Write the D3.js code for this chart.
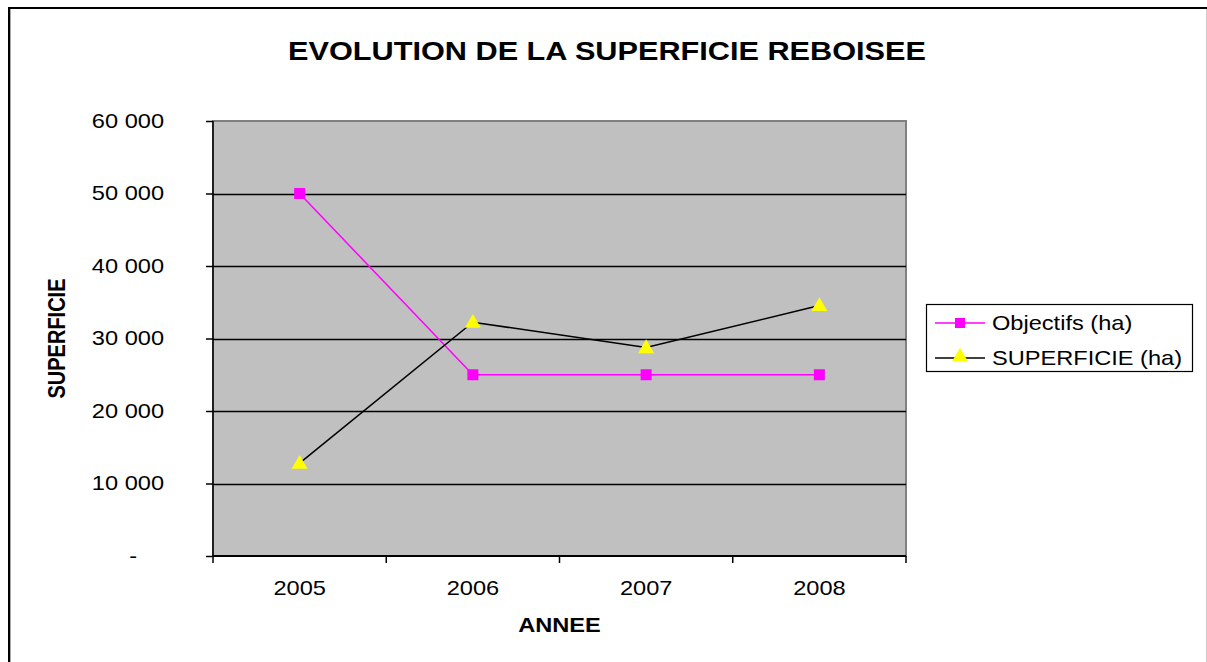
<!DOCTYPE html>
<html>
<head>
<meta charset="utf-8">
<script src="https://cdnjs.cloudflare.com/ajax/libs/d3/7.8.5/d3.min.js"></script>
<style>
  body { margin: 0; background: #fff; }
  text { font-family: "Liberation Sans", Arial, sans-serif; }
</style>
</head>
<body>
<svg id="chart" width="1207" height="662"></svg>
<script>
var years = ["2005", "2006", "2007", "2008"];
var objectifs = [50000, 25000, 25000, 25000];
var superficie = [12800, 32250, 28750, 34550];
var yTicks = [0, 10000, 20000, 30000, 40000, 50000, 60000];

// the original picture is widened a little, text too
var sx = 1.18;

var svg = d3.select("#chart"),
    margin = {top: 121, left: 213, bottom: 106, right: 301},
    width = +svg.attr("width"),
    height = +svg.attr("height");

// outer frame
svg.append("line").attr("x1", 8).attr("x2", 1207).attr("y1", 8).attr("y2", 8)
    .attr("stroke", "#000").attr("stroke-width", 2);
svg.append("line").attr("x1", 9).attr("x2", 9).attr("y1", 7).attr("y2", 662)
    .attr("stroke", "#000").attr("stroke-width", 2);
svg.append("line").attr("x1", 10.5).attr("x2", 10.5).attr("y1", 9).attr("y2", 662)
    .attr("stroke", "#aaa").attr("stroke-width", 1);
svg.append("line").attr("x1", 1206.5).attr("x2", 1206.5).attr("y1", 9).attr("y2", 662)
    .attr("stroke", "#ccc").attr("stroke-width", 1);

var x = d3.scaleBand()
    .domain(years)
    .range([margin.left, width - margin.right]);

var y = d3.scaleLinear()
    .domain([0, 60000])
    .range([height - margin.bottom, margin.top]);

// plot background
svg.append("rect")
    .attr("x", x.range()[0])
    .attr("y", y(60000))
    .attr("width", x.range()[1] - x.range()[0])
    .attr("height", y(0) - y(60000))
    .attr("fill", "#c0c0c0")
    .attr("stroke", "#808080")
    .attr("stroke-width", 2);

// gridlines
svg.append("g")
    .selectAll("line")
    .data(yTicks.slice(1, -1))
    .enter().append("line")
    .attr("x1", x.range()[0])
    .attr("x2", x.range()[1])
    .attr("y1", d => Math.round(y(d)) + 0.5)
    .attr("y2", d => Math.round(y(d)) + 0.5)
    .attr("stroke", "#000")
    .attr("stroke-width", 1.5);

var fmt = d => d === 0 ? "-" : d3.format(",")(d).replace(",", " ");

var yAxis = svg.append("g")
    .attr("transform", `translate(${x.range()[0]},0)`)
    .call(d3.axisLeft(y).tickValues(yTicks).tickSize(7).tickFormat(fmt));
yAxis.selectAll("text")
    .style("font-size", "20px").attr("fill", "#000")
    .attr("x", 0)
    .attr("transform", d => `translate(${d === 0 ? -76 : -49},0) scale(${sx},1)`);
yAxis.selectAll("line, path").attr("stroke", "#000").attr("stroke-width", 1.5);
yAxis.select(".domain").attr("d", `M0,${y(60000)}V${y(0)}`);

var xAxis = svg.append("g")
    .attr("transform", `translate(0,${y(0)})`)
    .call(d3.axisBottom(x).tickSize(0));
xAxis.selectAll("text")
    .style("font-size", "20px").attr("fill", "#000")
    .attr("y", 0).attr("dy", null)
    .attr("transform", `translate(0,39) scale(${sx},1)`);
xAxis.select(".domain").attr("stroke", "#000").attr("stroke-width", 2)
    .attr("d", `M${x.range()[0]},0H${x.range()[1]}`);
xAxis.selectAll(".boundary")
    .data(years.map(d => x(d)).concat([x.range()[1]]))
    .enter().append("line")
    .attr("x1", d => d).attr("x2", d => d)
    .attr("y1", 0).attr("y2", 7)
    .attr("stroke", "#000").attr("stroke-width", 1.5);

// titles
svg.append("text")
    .attr("transform", `translate(607,60) scale(${sx},1)`)
    .attr("text-anchor", "middle")
    .style("font-size", "26px").style("font-weight", "bold")
    .text("EVOLUTION DE LA SUPERFICIE REBOISEE");

svg.append("text")
    .attr("transform", `translate(${x(years[1]) + x.bandwidth()},632) scale(${sx},1)`)
    .attr("text-anchor", "middle")
    .style("font-size", "20px").style("font-weight", "bold")
    .text("ANNEE");

svg.append("text")
    .attr("transform", `translate(65,${(y(0) + y(60000)) / 2}) rotate(-90) scale(1,${sx})`)
    .attr("text-anchor", "middle")
    .style("font-size", "20px").style("font-weight", "bold")
    .text("SUPERFICIE");

var cx = d => x(d) + x.bandwidth() / 2;

var line = d3.line()
    .x((d, i) => cx(years[i]))
    .y(d => y(d));

svg.append("path")
    .datum(objectifs)
    .attr("d", line)
    .attr("fill", "none")
    .attr("stroke", "#ff00ff")
    .attr("stroke-width", 1.5);

svg.append("path")
    .datum(superficie)
    .attr("d", line)
    .attr("fill", "none")
    .attr("stroke", "#000")
    .attr("stroke-width", 1.5);

var tri = d3.symbol().type(d3.symbolTriangle).size(110);

svg.selectAll(".sq")
    .data(objectifs)
    .enter().append("rect")
    .attr("x", (d, i) => cx(years[i]) - 5.5)
    .attr("y", d => y(d) - 5.5)
    .attr("width", 11).attr("height", 11)
    .attr("fill", "#ff00ff");

svg.selectAll(".tri")
    .data(superficie)
    .enter().append("path")
    .attr("d", tri)
    .attr("transform", (d, i) => `translate(${cx(years[i])},${y(d) + 1})`)
    .attr("fill", "#ffff00");

// legend
var legend = svg.append("g").attr("transform", "translate(926,304)");
legend.append("rect")
    .attr("x", 0.5).attr("y", 0.5)
    .attr("width", 266).attr("height", 67)
    .attr("fill", "#fff").attr("stroke", "#000").attr("stroke-width", 1.2);

var items = [
    {name: "Objectifs (ha)", color: "#ff00ff", mark: "sq"},
    {name: "SUPERFICIE (ha)", color: "#000", mark: "tri"}
];

var li = legend.selectAll(".li")
    .data(items)
    .enter().append("g")
    .attr("transform", (d, i) => `translate(0,${19 + i * 35})`);

li.append("line")
    .attr("x1", 9).attr("x2", 59)
    .attr("stroke", d => d.color).attr("stroke-width", 1.5);

li.filter(d => d.mark === "sq").append("rect")
    .attr("x", 29).attr("y", -5).attr("width", 10).attr("height", 10)
    .attr("fill", "#ff00ff");

li.filter(d => d.mark === "tri").append("path")
    .attr("d", tri)
    .attr("transform", "translate(34,-1)")
    .attr("fill", "#ffff00");

li.append("text")
    .attr("transform", `translate(66,7) scale(${sx},1)`)
    .style("font-size", "20px")
    .text(d => d.name);
</script>
</body>
</html>
